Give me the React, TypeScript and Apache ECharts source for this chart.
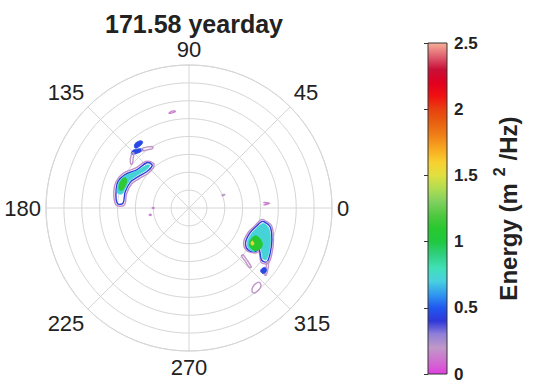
import React, { useEffect, useRef } from 'react';
import * as echarts from 'echarts';

// ---------- data (angle in degrees, radius in ring units) ----------
const titleText = '171.58 yearday';
const angleTicks = [0, 45, 90, 135, 180, 225, 270, 315];
const colorbarTicks = [0, 0.5, 1, 1.5, 2, 2.5];

// north-west swell system
const nwLavender = [[178.5,3.88],[177,4.12],[168,4.3],[160,4.34],[152,4.15],[143,3.72],[133,3.56],[128.5,3.2],[132,3.0],[140,3.0],[149,3.22],[157,3.48],[167,3.58],[177,3.6]];
const nwBlue = [[176.8,3.97],[173.7,4.1],[166,4.2],[159.9,4.24],[152.7,4.05],[143.8,3.62],[133,3.46],[130.5,3.18],[133,3.1],[139.4,3.12],[148.7,3.35],[156.2,3.58],[166,3.68],[175.7,3.7]];
const nwCyan = [[168,4.1],[163,4.17],[158,4.16],[152.5,3.98],[144,3.56],[135,3.38],[132.5,3.24],[138.5,3.2],[147.5,3.42],[155,3.64],[162,3.73],[168,3.82]];
const nwGreen = [[165.5,4.02],[161.5,4.12],[157,4.08],[154.5,3.94],[156.5,3.8],[161,3.78],[165,3.86]];
const nwDashOuter = [[132,4.55],[130,4.7],[126,4.65],[125,4.52],[127,4.43],[131,4.45]];
const nwDashMid = [[137,4.42],[134,4.5],[129.5,4.3],[128,4.18],[131,4.15],[135.5,4.3]];
const nwDashLav = [[128.5,4.25],[124,4.12],[120.5,3.98],[122,3.9],[126,4.02],[129,4.12]];
const nwStreak = [[143,4.08],[140,4.28],[136,4.42],[135,4.36],[138,4.2],[142,4.02]];
const nwSpeck = [[102,5.42],[100,5.5],[98,5.46],[100,5.4]];
const wDot1 = [[181,1.98],[180,2.06],[179,2.0],[180,1.95]];
const wDot2 = [[191,2.18],[190,2.26],[189,2.2],[190,2.15]];

// south-east wind-sea system
const seLavender = [[351,4.2],[348,4.72],[339,5.06],[331,5.3],[325,5.4],[323,5.05],[328,4.62],[326,4.5],[323.5,4.05],[327.5,3.62],[337.5,3.58],[345,3.82],[350.5,4.05]];
const seBlue = [[349.6,4.25],[347,4.66],[338.8,4.97],[330.8,5.2],[325.4,5.3],[324.4,5.0],[329.5,4.55],[326.5,4.42],[324.7,4.06],[328.2,3.72],[337.5,3.68],[344.6,3.9],[349.3,4.13]];
const seCyan = [[348.3,4.25],[345.8,4.6],[339,4.88],[331.5,5.1],[326.3,5.2],[325.6,5.02],[330.5,4.6],[328.5,4.42],[326,4.38],[325.7,4.08],[329,3.8],[337,3.77],[343.8,3.97]];
const seGreen = [[337.5,4.05],[335,4.5],[331,4.62],[327,4.38],[327.8,4.02],[332,3.88]];
const seYellow = [[332.5,4.0],[331,4.16],[329.5,4.1],[330.5,3.98]];
const seTailLine = [[326,5.35],[323,5.55],[319,5.72],[318.5,5.66],[322,5.48],[325,5.3]];
const seTailBlue = [[322,5.4],[321,5.58],[318.5,5.55],[318.5,5.35],[320,5.3]];
const seTailLav = [[313.5,5.75],[312,5.98],[308,6.02],[307,5.88],[309,5.68],[312,5.65]];
const seLeftLav = [[319,4.0],[318,4.4],[316.5,4.8],[315.5,4.75],[316.5,4.35],[317.5,3.98]];
const eLambda = [[4.2,4.2],[3.3,4.52],[2.4,4.2],[3.3,4.35]];
const neSpeck = [[22,2.0],[20.8,2.16],[19.4,2.1],[20.3,1.96]];

// [points, energy level, filled]
const contours: [number[][], number, boolean][] = [
  [nwLavender, 0.18, false],
  [nwBlue, 0.42, false],
  [nwCyan, 0.72, true],
  [nwGreen, 1.12, true],
  [nwDashOuter, 0.45, true],
  [nwDashMid, 0.45, true],
  [nwDashLav, 0.2, false],
  [nwStreak, 0.2, false],
  [nwSpeck, 0.15, false],
  [wDot1, 0.15, false],
  [wDot2, 0.15, false],
  [seLavender, 0.18, false],
  [seBlue, 0.42, false],
  [seCyan, 0.72, true],
  [seGreen, 1.1, true],
  [seYellow, 1.55, true],
  [seTailLine, 0.2, false],
  [seTailBlue, 0.45, true],
  [seTailLav, 0.2, false],
  [seLeftLav, 0.2, false],
  [eLambda, 0.15, false],
  [neSpeck, 0.22, true],
];

// colormap, 0 -> 2.5
const cmap = ['#e040e0','#d070d0','#c098c8','#9080d8','#3038d8','#2058f0','#3098f0','#48d0e0','#40e0b8','#30d080','#20c840','#28c830','#50c840','#80d060','#b0dc50','#e0e040','#f8d030','#f8a820','#f08018','#e86010','#e84010','#f01010','#e00020','#c81038','#e06070','#f8b098'];

const FONT = '"Liberation Sans", Arial, Helvetica, sans-serif';

export default function App() {
  const ref = useRef<HTMLDivElement>(null);
  useEffect(() => {
    const chart = echarts.init(ref.current!, null, { renderer: 'svg' });
    const gradStops = cmap.map((c, i) => ({ offset: i / (cmap.length - 1), color: c }));
    const option: any = {
      animation: false,
      backgroundColor: '#ffffff',
      textStyle: { fontFamily: FONT },
      title: {
        text: titleText,
        left: 189,
        textAlign: 'center',
        top: 6,
        textStyle: { fontSize: 25, fontWeight: 'bold', color: '#222', fontFamily: FONT },
      },
      polar: { center: [189, 208], radius: 143 },
      angleAxis: {
        type: 'value',
        min: 0,
        max: 360,
        interval: 45,
        startAngle: 0,
        clockwise: false,
        axisLine: { show: true, lineStyle: { color: '#d6d6d6', width: 1 } },
        axisTick: { show: false },
        axisLabel: {
          show: true,
          margin: 5,
          fontSize: 22,
          color: '#222',
          fontFamily: FONT,
          formatter: (v: number) => (angleTicks.includes(v) ? String(v) : ''),
        },
        splitLine: { show: true, lineStyle: { color: '#d6d6d6', width: 1 } },
      },
      radiusAxis: {
        type: 'value',
        min: 0,
        max: 8,
        interval: 1,
        axisLine: { show: false },
        axisTick: { show: false },
        axisLabel: { show: false },
        splitLine: { show: true, lineStyle: { color: '#d6d6d6', width: 1 } },
      },
      grid: { left: 428, top: 43, width: 19, bottom: 14 },
      xAxis: { type: 'value', min: 0, max: 1, show: false, gridIndex: 0 },
      yAxis: {
        type: 'value',
        gridIndex: 0,
        position: 'right',
        min: colorbarTicks[0],
        max: colorbarTicks[colorbarTicks.length - 1],
        interval: 0.5,
        axisLine: { show: false },
        axisTick: { show: true, inside: true, length: 4, lineStyle: { color: '#333' } },
        splitLine: { show: false },
        axisLabel: { fontSize: 17, fontWeight: 'bold', color: '#222', margin: 7, fontFamily: FONT },
        name: '{a|Energy (m}{s|2}{a|/Hz)}',
        nameLocation: 'middle',
        nameRotate: 90,
        nameGap: 44,
        nameTextStyle: {
          rich: {
            a: { fontSize: 24, fontWeight: 'bold', color: '#222', fontFamily: FONT, lineHeight: 34 },
            s: { fontSize: 16, fontWeight: 'bold', color: '#222', fontFamily: FONT, verticalAlign: 'top', lineHeight: 16, padding: [0, 7, 0, 7] },
          },
        },
      },
      visualMap: {
        show: false,
        type: 'continuous',
        min: 0,
        max: 2.5,
        dimension: 2,
        seriesIndex: 0,
        inRange: { color: cmap },
      },
      series: [
        {
          type: 'custom',
          coordinateSystem: 'polar',
          polarIndex: 0,
          silent: true,
          data: contours.map((c, i) => [c[0][0][1], c[0][0][0], c[1], i]),
          renderItem: (params: any, api: any) => {
            const c = contours[api.value(3)];
            const color = api.visual('color');
            const pts = c[0].map(([a, r]) => api.coord([r, a]));
            return {
              type: 'polygon',
              shape: { points: pts, smooth: 0.35 },
              style: { fill: c[2] ? color : 'none', stroke: color, lineWidth: c[2] ? 0.8 : 1.4 },
            };
          },
        },
        {
          type: 'custom',
          coordinateSystem: 'cartesian2d',
          xAxisIndex: 0,
          yAxisIndex: 0,
          silent: true,
          data: [[0, 0]],
          renderItem: (params: any, api: any) => {
            const p0 = api.coord([0, colorbarTicks[0]]);
            const p1 = api.coord([1, colorbarTicks[colorbarTicks.length - 1]]);
            return {
              type: 'rect',
              shape: { x: p0[0], y: p1[1], width: p1[0] - p0[0], height: p0[1] - p1[1] },
              style: {
                fill: new echarts.graphic.LinearGradient(0, 1, 0, 0, gradStops),
                stroke: '#333',
                lineWidth: 1,
              },
            };
          },
        },
      ],
    };
    chart.setOption(option);
    return () => chart.dispose();
  }, []);
  return <div ref={ref} style={{ position: 'fixed', left: 0, top: 0, width: 545, height: 388 }} />;
}
